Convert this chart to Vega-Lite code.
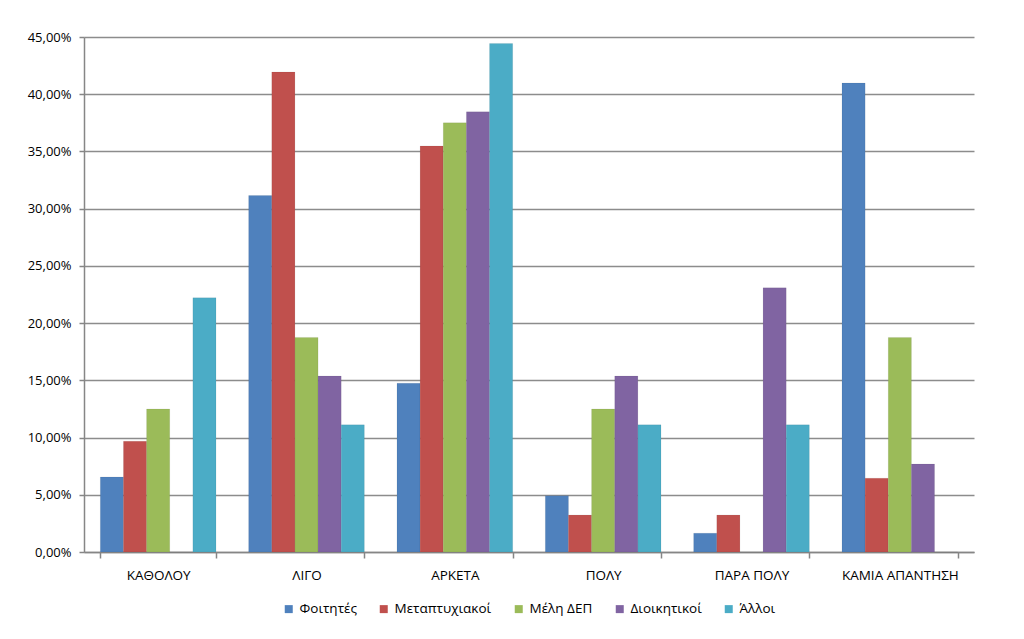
{
  "$schema": "https://vega.github.io/schema/vega-lite/v6.json",
  "width": 890,
  "height": 515,
  "autosize": {"type": "none"},
  "padding": {"left": 84, "top": 37, "right": 50, "bottom": 87},
  "background": "white",
  "data": {
    "values": [
      {"category": "ΚΑΘΟΛΟΥ", "group": "Φοιτητές", "value": 0.0656},
      {"category": "ΚΑΘΟΛΟΥ", "group": "Μεταπτυχιακοί", "value": 0.0968},
      {"category": "ΚΑΘΟΛΟΥ", "group": "Μέλη ΔΕΠ", "value": 0.125},
      {"category": "ΚΑΘΟΛΟΥ", "group": "Διοικητικοί", "value": 0},
      {"category": "ΚΑΘΟΛΟΥ", "group": "Άλλοι", "value": 0.2222},
      {"category": "ΛΙΓΟ", "group": "Φοιτητές", "value": 0.3115},
      {"category": "ΛΙΓΟ", "group": "Μεταπτυχιακοί", "value": 0.4194},
      {"category": "ΛΙΓΟ", "group": "Μέλη ΔΕΠ", "value": 0.1875},
      {"category": "ΛΙΓΟ", "group": "Διοικητικοί", "value": 0.1538},
      {"category": "ΛΙΓΟ", "group": "Άλλοι", "value": 0.1111},
      {"category": "ΑΡΚΕΤΑ", "group": "Φοιτητές", "value": 0.1475},
      {"category": "ΑΡΚΕΤΑ", "group": "Μεταπτυχιακοί", "value": 0.3548},
      {"category": "ΑΡΚΕΤΑ", "group": "Μέλη ΔΕΠ", "value": 0.375},
      {"category": "ΑΡΚΕΤΑ", "group": "Διοικητικοί", "value": 0.3846},
      {"category": "ΑΡΚΕΤΑ", "group": "Άλλοι", "value": 0.4444},
      {"category": "ΠΟΛΥ", "group": "Φοιτητές", "value": 0.0492},
      {"category": "ΠΟΛΥ", "group": "Μεταπτυχιακοί", "value": 0.0323},
      {"category": "ΠΟΛΥ", "group": "Μέλη ΔΕΠ", "value": 0.125},
      {"category": "ΠΟΛΥ", "group": "Διοικητικοί", "value": 0.1538},
      {"category": "ΠΟΛΥ", "group": "Άλλοι", "value": 0.1111},
      {"category": "ΠΑΡΑ ΠΟΛΥ", "group": "Φοιτητές", "value": 0.0164},
      {"category": "ΠΑΡΑ ΠΟΛΥ", "group": "Μεταπτυχιακοί", "value": 0.0323},
      {"category": "ΠΑΡΑ ΠΟΛΥ", "group": "Μέλη ΔΕΠ", "value": 0},
      {"category": "ΠΑΡΑ ΠΟΛΥ", "group": "Διοικητικοί", "value": 0.2308},
      {"category": "ΠΑΡΑ ΠΟΛΥ", "group": "Άλλοι", "value": 0.1111},
      {"category": "ΚΑΜΙΑ ΑΠΑΝΤΗΣΗ", "group": "Φοιτητές", "value": 0.4098},
      {"category": "ΚΑΜΙΑ ΑΠΑΝΤΗΣΗ", "group": "Μεταπτυχιακοί", "value": 0.0645},
      {"category": "ΚΑΜΙΑ ΑΠΑΝΤΗΣΗ", "group": "Μέλη ΔΕΠ", "value": 0.1875},
      {"category": "ΚΑΜΙΑ ΑΠΑΝΤΗΣΗ", "group": "Διοικητικοί", "value": 0.0769},
      {"category": "ΚΑΜΙΑ ΑΠΑΝΤΗΣΗ", "group": "Άλλοι", "value": 0}
    ]
  },
  "mark": {"type": "bar", "stroke": "#000000", "strokeOpacity": 0.12, "strokeWidth": 0.5},
  "encoding": {
    "x": {
      "field": "category",
      "type": "nominal",
      "sort": ["ΚΑΘΟΛΟΥ", "ΛΙΓΟ", "ΑΡΚΕΤΑ", "ΠΟΛΥ", "ΠΑΡΑ ΠΟΛΥ", "ΚΑΜΙΑ ΑΠΑΝΤΗΣΗ"],
      "scale": {"paddingInner": 0.22, "paddingOuter": 0.11},
      "axis": {
        "title": null,
        "labelAngle": 0,
        "tickBand": "extent",
        "domainColor": "#868686",
        "domainWidth": 1.5,
        "tickColor": "#868686",
        "tickWidth": 1.5,
        "tickSize": 6,
        "labelFont": "Open Sans",
        "labelFontSize": 13.5,
        "labelColor": "#000000",
        "labelPadding": 10,
        "grid": false
      }
    },
    "xOffset": {
      "field": "group",
      "sort": ["Φοιτητές", "Μεταπτυχιακοί", "Μέλη ΔΕΠ", "Διοικητικοί", "Άλλοι"],
      "scale": {"paddingInner": 0, "paddingOuter": 0}
    },
    "y": {
      "field": "value",
      "type": "quantitative",
      "scale": {"domain": [0, 0.45], "nice": false},
      "axis": {
        "title": null,
        "values": [0, 0.05, 0.1, 0.15, 0.2, 0.25, 0.3, 0.35, 0.4, 0.45],
        "labelExpr": "replace(format(datum.value, '.2%'), '.', ',')",
        "domainColor": "#868686",
        "domainWidth": 1.5,
        "tickColor": "#868686",
        "tickWidth": 1.5,
        "tickSize": 5,
        "gridColor": "#8c8c8c",
        "gridWidth": 1.5,
        "labelFont": "Open Sans",
        "labelFontSize": 13,
        "labelColor": "#000000",
        "labelPadding": 8
      }
    },
    "color": {
      "field": "group",
      "type": "nominal",
      "sort": ["Φοιτητές", "Μεταπτυχιακοί", "Μέλη ΔΕΠ", "Διοικητικοί", "Άλλοι"],
      "scale": {"range": ["#4F81BD", "#C0504D", "#9BBB59", "#8064A2", "#4BACC6"]},
      "legend": {
        "title": null,
        "orient": "bottom",
        "direction": "horizontal",
        "symbolType": "square",
        "symbolSize": 64,
        "symbolStrokeWidth": 0,
        "labelFont": "Open Sans",
        "labelFontSize": 13.5,
        "labelColor": "#000000",
        "columnPadding": 20,
        "offset": 20
      }
    }
  },
  "config": {
    "view": {"stroke": null},
    "legend": {"layout": {"bottom": {"anchor": "middle"}}}
  }
}
